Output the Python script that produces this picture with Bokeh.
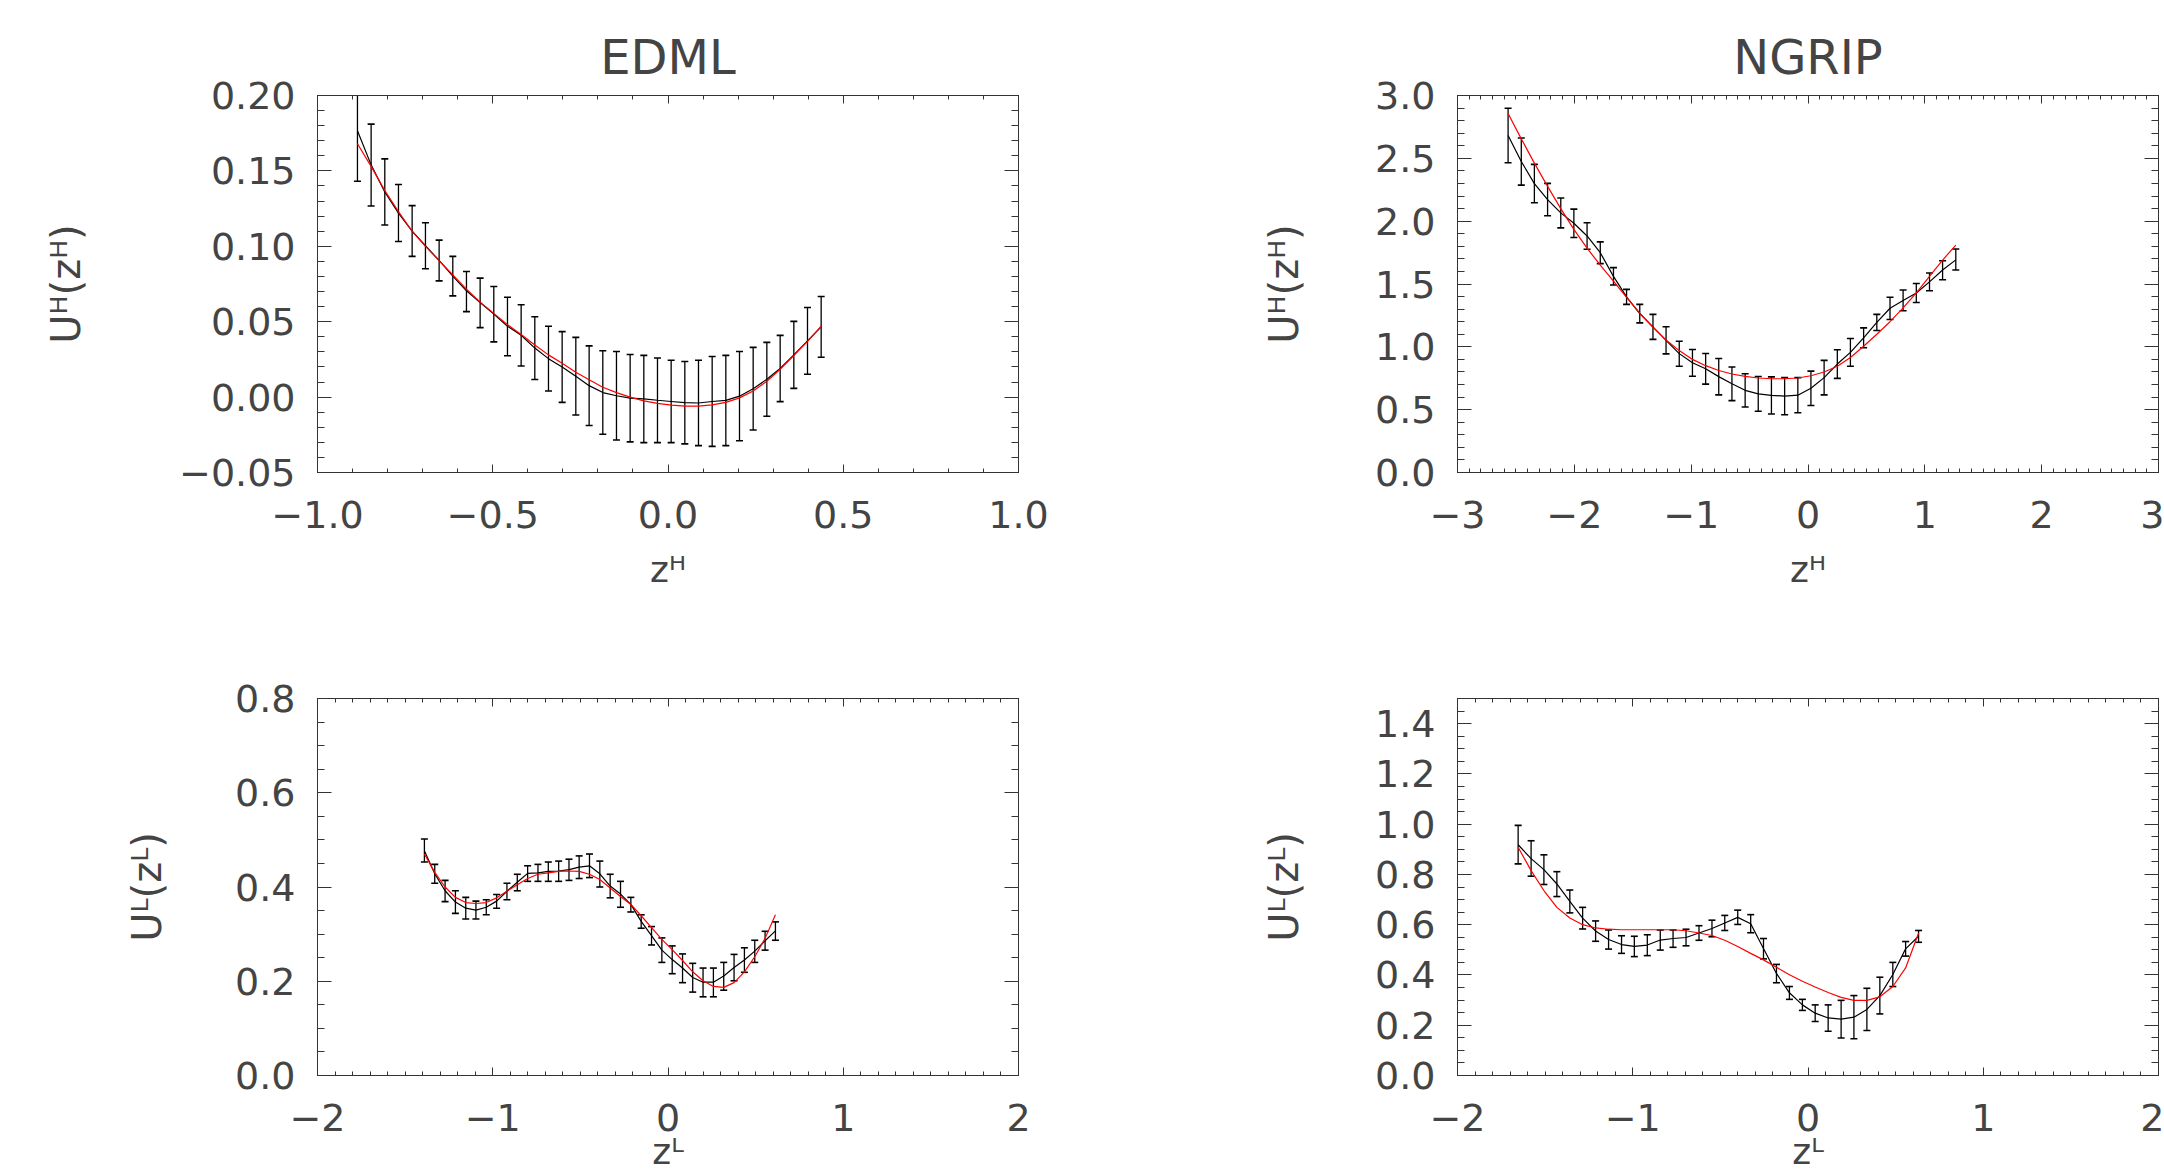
import numpy as np
from bokeh.plotting import figure
from bokeh.models import LinearAxis, FixedTicker, CustomJSTickFormatter, Range1d
from bokeh.layouts import column, row
from bokeh.embed import file_html
from bokeh.resources import INLINE

# ---------------- data ----------------
# EDML, upper panel (z^H)
edml_h_x = [-0.886, -0.847, -0.808, -0.769, -0.730, -0.692, -0.653, -0.614, -0.575, -0.536,
            -0.497, -0.458, -0.419, -0.380, -0.341, -0.302, -0.263, -0.225, -0.186, -0.147,
            -0.108, -0.069, -0.030, 0.009, 0.048, 0.087, 0.126, 0.165, 0.204, 0.243,
            0.282, 0.320, 0.359, 0.398, 0.437]
edml_h_hi = [0.211, 0.181, 0.158, 0.141, 0.127, 0.1156, 0.1041, 0.0933, 0.0833, 0.0789,
             0.0733, 0.0662, 0.0612, 0.0533, 0.047, 0.0434, 0.0396, 0.034, 0.0307, 0.0302,
             0.0282, 0.0277, 0.0259, 0.0244, 0.0236, 0.0244, 0.0269, 0.0277, 0.0302, 0.033,
             0.0363, 0.0409, 0.0502, 0.0594, 0.0667]
edml_h_lo = [0.1431, 0.1267, 0.1141, 0.1032, 0.0933, 0.0851, 0.0771, 0.0671, 0.0567, 0.0461,
             0.0366, 0.0274, 0.0206, 0.0117, 0.004, -0.0035, -0.0119, -0.0188, -0.0246, -0.0284,
             -0.0297, -0.0302, -0.0302, -0.0302, -0.031, -0.0322, -0.0327, -0.0322, -0.0289, -0.0218,
             -0.0127, -0.003, 0.0058, 0.0152, 0.0264]
edml_h_obs = [0.1766, 0.154, 0.136, 0.122, 0.110, 0.1004, 0.0906, 0.0802, 0.0705, 0.0627,
              0.055, 0.0470, 0.0410, 0.0325, 0.0255, 0.020, 0.0138, 0.0076, 0.003, 0.0009,
              -0.0007, -0.0012, -0.0021, -0.0029, -0.0037, -0.0039, -0.0029, -0.0022, 0.0006, 0.0056,
              0.0118, 0.019, 0.028, 0.0373, 0.0466]
edml_h_fit = [0.168, 0.153, 0.137, 0.123, 0.110, 0.100, 0.0905, 0.081, 0.0715, 0.063,
              0.0555, 0.048, 0.0415, 0.0345, 0.028, 0.0225, 0.0165, 0.0115, 0.0065, 0.003,
              0.0, -0.0025, -0.0042, -0.0053, -0.006, -0.006, -0.0052, -0.0035, -0.0005, 0.004,
              0.0105, 0.0185, 0.0275, 0.037, 0.047]

# NGRIP, upper panel (z^H)
ngrip_h_x = [-2.567, -2.454, -2.342, -2.229, -2.116, -2.004, -1.891, -1.778, -1.665, -1.553,
             -1.440, -1.327, -1.215, -1.102, -0.989, -0.876, -0.764, -0.651, -0.538, -0.426,
             -0.313, -0.200, -0.087, 0.025, 0.138, 0.251, 0.363, 0.476, 0.589, 0.702,
             0.814, 0.927, 1.040, 1.152, 1.265]
ngrip_h_hi = [2.899, 2.662, 2.452, 2.301, 2.184, 2.096, 1.987, 1.835, 1.630, 1.457,
              1.338, 1.258, 1.160, 1.045, 0.979, 0.947, 0.907, 0.840, 0.786, 0.764,
              0.761, 0.755, 0.755, 0.807, 0.892, 0.977, 1.066, 1.151, 1.258, 1.395,
              1.452, 1.504, 1.587, 1.685, 1.778]
ngrip_h_lo = [2.465, 2.287, 2.146, 2.043, 1.947, 1.870, 1.777, 1.662, 1.492, 1.338,
              1.191, 1.059, 0.944, 0.846, 0.766, 0.703, 0.618, 0.572, 0.521, 0.487,
              0.466, 0.460, 0.475, 0.533, 0.618, 0.749, 0.846, 0.993, 1.130, 1.218,
              1.287, 1.353, 1.446, 1.534, 1.611]
ngrip_h_obs = [2.682, 2.475, 2.299, 2.172, 2.066, 1.983, 1.882, 1.749, 1.561, 1.398,
               1.265, 1.159, 1.052, 0.946, 0.873, 0.825, 0.763, 0.706, 0.654, 0.626,
               0.614, 0.608, 0.615, 0.670, 0.755, 0.863, 0.956, 1.072, 1.194, 1.307,
               1.369, 1.428, 1.517, 1.611, 1.692]
ngrip_h_fit = [2.857, 2.655, 2.462, 2.277, 2.100, 1.935, 1.785, 1.650, 1.522, 1.393,
               1.268, 1.155, 1.055, 0.970, 0.900, 0.850, 0.812, 0.784, 0.765, 0.752,
               0.746, 0.746, 0.752, 0.770, 0.800, 0.845, 0.915, 1.005, 1.100, 1.200,
               1.310, 1.430, 1.560, 1.690, 1.810]

# EDML, lower panel (z^L)
edml_l_x = [-1.390, -1.331, -1.272, -1.213, -1.154, -1.096, -1.037, -0.978, -0.919, -0.860,
            -0.801, -0.742, -0.683, -0.624, -0.565, -0.507, -0.448, -0.389, -0.330, -0.271,
            -0.212, -0.153, -0.094, -0.035, 0.024, 0.083, 0.141, 0.200, 0.259, 0.318,
            0.377, 0.436, 0.495, 0.554, 0.613]
edml_l_hi = [0.502, 0.448, 0.414, 0.392, 0.378, 0.370, 0.373, 0.384, 0.408, 0.427,
             0.445, 0.448, 0.453, 0.455, 0.459, 0.466, 0.470, 0.455, 0.427, 0.412,
             0.378, 0.341, 0.316, 0.292, 0.275, 0.258, 0.238, 0.228, 0.228, 0.240,
             0.257, 0.271, 0.287, 0.306, 0.326]
edml_l_lo = [0.453, 0.408, 0.369, 0.344, 0.332, 0.332, 0.341, 0.355, 0.373, 0.392,
             0.412, 0.412, 0.412, 0.412, 0.414, 0.418, 0.420, 0.400, 0.377, 0.357,
             0.347, 0.3125, 0.277, 0.240, 0.216, 0.197, 0.177, 0.167, 0.167, 0.181,
             0.201, 0.219, 0.240, 0.266, 0.287]
edml_l_obs = [0.477, 0.428, 0.392, 0.368, 0.355, 0.351, 0.357, 0.370, 0.391, 0.410,
              0.429, 0.430, 0.433, 0.434, 0.437, 0.442, 0.445, 0.428, 0.402, 0.385,
              0.363, 0.327, 0.297, 0.266, 0.246, 0.228, 0.208, 0.198, 0.198, 0.211,
              0.229, 0.245, 0.264, 0.286, 0.307]
edml_l_fit = [0.470, 0.431, 0.400, 0.378, 0.367, 0.365, 0.367, 0.377, 0.391, 0.405,
              0.418, 0.427, 0.430, 0.433, 0.434, 0.433, 0.427, 0.416, 0.398, 0.380,
              0.363, 0.339, 0.314, 0.289, 0.267, 0.244, 0.220, 0.201, 0.189, 0.187,
              0.197, 0.220, 0.252, 0.291, 0.341]

# NGRIP, lower panel (z^L)
ngrip_l_x = [-1.654, -1.580, -1.507, -1.433, -1.359, -1.286, -1.212, -1.138, -1.064, -0.991,
             -0.917, -0.843, -0.770, -0.696, -0.622, -0.548, -0.475, -0.401, -0.327, -0.254,
             -0.180, -0.106, -0.032, 0.041, 0.115, 0.189, 0.262, 0.336, 0.410, 0.484,
             0.557, 0.631]
ngrip_l_hi = [0.995, 0.934, 0.878, 0.811, 0.738, 0.669, 0.615, 0.579, 0.556, 0.554,
              0.560, 0.579, 0.579, 0.582, 0.596, 0.618, 0.637, 0.658, 0.640, 0.545,
              0.442, 0.354, 0.303, 0.281, 0.281, 0.299, 0.318, 0.347, 0.391, 0.450,
              0.533, 0.577]
ngrip_l_lo = [0.842, 0.793, 0.760, 0.712, 0.647, 0.583, 0.534, 0.503, 0.486, 0.473,
              0.477, 0.499, 0.510, 0.516, 0.538, 0.552, 0.577, 0.601, 0.568, 0.464,
              0.369, 0.303, 0.259, 0.215, 0.176, 0.149, 0.146, 0.179, 0.245, 0.354,
              0.475, 0.530]
ngrip_l_obs = [0.918, 0.863, 0.819, 0.762, 0.693, 0.626, 0.575, 0.541, 0.521, 0.514,
               0.519, 0.539, 0.545, 0.549, 0.567, 0.585, 0.607, 0.629, 0.604, 0.505,
               0.406, 0.329, 0.281, 0.248, 0.229, 0.224, 0.232, 0.263, 0.318, 0.402,
               0.504, 0.554]
ngrip_l_fit = [0.908, 0.815, 0.736, 0.669, 0.627, 0.600, 0.587, 0.582, 0.580, 0.580,
               0.580, 0.580, 0.580, 0.576, 0.567, 0.557, 0.538, 0.513, 0.486, 0.460,
               0.431, 0.401, 0.375, 0.352, 0.330, 0.311, 0.299, 0.299, 0.313, 0.354,
               0.428, 0.567]

titles = ["EDML", "NGRIP"]
ytitles = ["U\u1d34(z\u1d34)", "U\u1d38(z\u1d38)"]
xtitles = ["z\u1d34", "z\u1d38"]

# ---------------- styling ----------------
FONT = "DejaVu Sans"
TEXT = "#444444"
LINE = "#333333"
TICK_FS = "38px"


def tick_list(a, b, step):
    return [round(float(v), 6) for v in np.arange(a, b + step / 2, step)]


def fmt(dec):
    return CustomJSTickFormatter(args=dict(d=dec), code="""
const s = Math.abs(tick).toFixed(d);
return (tick < -1e-9 ? "\\u2212" : "") + s;
""")


def style_axis(ax, tin, mtin, labels=True, standoff=22):
    ax.axis_line_color = LINE
    ax.axis_line_width = 1
    ax.major_tick_line_color = LINE
    ax.minor_tick_line_color = LINE
    ax.major_tick_in = tin
    ax.major_tick_out = 0
    ax.minor_tick_in = mtin
    ax.minor_tick_out = 0
    if labels:
        ax.major_label_text_font = FONT
        ax.major_label_text_font_size = TICK_FS
        ax.major_label_text_color = TEXT
        ax.major_label_standoff = standoff
    else:
        ax.major_label_text_font_size = "1px"
        ax.major_label_standoff = 0


def panel(x, lo, hi, obs, fit, xr, yr, xmaj, xmin_, ymaj, ymin_, xdec, ydec,
          w, h, mbl, mbr, mbt, mbb, title, xtitle, ytitle, xstand, ystand):
    p = figure(width=w, height=h, x_range=Range1d(*xr), y_range=Range1d(*yr),
               output_backend="svg", toolbar_location=None,
               min_border_left=mbl, min_border_right=mbr,
               min_border_top=mbt, min_border_bottom=mbb)
    p.xgrid.visible = False
    p.ygrid.visible = False
    p.outline_line_color = LINE
    p.background_fill_color = "white"
    p.border_fill_color = "white"
    if title:
        p.title.text = title
        p.title.align = "center"
        p.title.text_font = FONT
        p.title.text_font_size = "48px"
        p.title.text_font_style = "normal"
        p.title.text_color = TEXT
        p.title.standoff = 22
    else:
        p.title.text = ""

    xt = FixedTicker(ticks=xmaj, minor_ticks=xmin_)
    yt = FixedTicker(ticks=ymaj, minor_ticks=ymin_)

    bx = p.xaxis[0]
    bx.ticker = xt
    bx.formatter = fmt(xdec)
    style_axis(bx, 8, 4, standoff=28)
    bx.axis_label = xtitle
    bx.axis_label_text_font = FONT
    bx.axis_label_text_font_size = "36px"
    bx.axis_label_text_font_style = "normal"
    bx.axis_label_text_color = TEXT
    bx.axis_label_standoff = xstand

    ly = p.yaxis[0]
    ly.ticker = yt
    ly.formatter = fmt(ydec)
    style_axis(ly, 14, 7, standoff=22)
    ly.axis_label = ytitle
    ly.axis_label_text_font = FONT
    ly.axis_label_text_font_size = "40px"
    ly.axis_label_text_font_style = "normal"
    ly.axis_label_text_color = TEXT
    ly.axis_label_standoff = ystand

    blank = CustomJSTickFormatter(code="return '';")
    tx = LinearAxis(ticker=xt, formatter=blank)
    style_axis(tx, 8, 4, labels=False)
    p.add_layout(tx, "above")
    ry = LinearAxis(ticker=yt, formatter=blank)
    style_axis(ry, 14, 7, labels=False)
    p.add_layout(ry, "right")

    # error bars
    p.segment(x0=x, y0=lo, x1=x, y1=hi, line_color="black", line_width=1.3)
    p.scatter(x=x, y=lo, marker="dash", size=7, line_color="black", line_width=1.6)
    p.scatter(x=x, y=hi, marker="dash", size=7, line_color="black", line_width=1.6)
    # curves
    p.line(x=x, y=obs, line_color="black", line_width=1.2)
    p.line(x=x, y=fit, line_color="#ff0000", line_width=1.2)
    return p


W_L, W_R = 1137, 1027
H_T, H_B = 602, 574

p1 = panel(edml_h_x, edml_h_lo, edml_h_hi, edml_h_obs, edml_h_fit,
           (-1.0, 1.0), (-0.05, 0.20),
           tick_list(-1.0, 1.0, 0.5), tick_list(-1.0, 1.0, 0.1),
           tick_list(-0.05, 0.20, 0.05), tick_list(-0.05, 0.20, 0.01), 1, 2,
           W_L, H_T, 317, 119, 95, 130, titles[0], xtitles[0], ytitles[0], 18, 87)

p2 = panel(ngrip_h_x, ngrip_h_lo, ngrip_h_hi, ngrip_h_obs, ngrip_h_fit,
           (-3.0, 3.0), (0.0, 3.0),
           tick_list(-3.0, 3.0, 1.0), tick_list(-3.0, 3.0, 0.1),
           tick_list(0.0, 3.0, 0.5), tick_list(0.0, 3.0, 0.1), 0, 1,
           W_R, H_T, 320, 6, 95, 130, titles[1], xtitles[0], ytitles[0], 18, 65)

p3 = panel(edml_l_x, edml_l_lo, edml_l_hi, edml_l_obs, edml_l_fit,
           (-2.0, 2.0), (0.0, 0.8),
           tick_list(-2.0, 2.0, 1.0), tick_list(-2.0, 2.0, 0.1),
           tick_list(0.0, 0.8, 0.2), tick_list(0.0, 0.8, 0.05), 0, 1,
           W_L, H_B, 317, 119, 96, 101, None, xtitles[1], ytitles[1], -3, 62)

p4 = panel(ngrip_l_x, ngrip_l_lo, ngrip_l_hi, ngrip_l_obs, ngrip_l_fit,
           (-2.0, 2.0), (0.0, 1.5),
           tick_list(-2.0, 2.0, 1.0), tick_list(-2.0, 2.0, 0.1),
           tick_list(0.0, 1.4, 0.2), tick_list(0.0, 1.5, 0.05), 0, 1,
           W_R, H_B, 320, 6, 96, 101, None, xtitles[1], ytitles[1], -3, 65)

layout = column(row(p1, p2, spacing=0), row(p3, p4, spacing=0), spacing=0)

with open("out.html", "w", encoding="utf-8") as f:
    f.write(file_html(layout, INLINE))
